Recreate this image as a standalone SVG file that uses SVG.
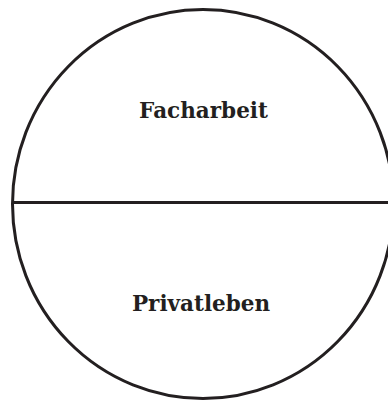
<svg xmlns="http://www.w3.org/2000/svg" width="388" height="402" viewBox="0 0 388 402">
<style>
.shape{fill:none;stroke:#231f20;stroke-width:3}
.lbl{font-family:"DejaVu Serif","Liberation Serif",serif;font-weight:bold;font-size:21.5px;fill:#231f20;text-anchor:middle}
</style>
<rect width="388" height="402" fill="#ffffff"/>
<g id="circle">
<ellipse class="shape" cx="203" cy="204" rx="190.5" ry="194.5"/>
</g>
<g id="connectors">
<line class="shape" x1="12.5" y1="202.5" x2="388" y2="202.5"/>
</g>
<g id="facharbeit">
<text class="lbl" x="203.5" y="117.5">Facharbeit</text>
</g>
<g id="privatleben">
<text class="lbl" x="201" y="311">Privatleben</text>
</g>
</svg>
